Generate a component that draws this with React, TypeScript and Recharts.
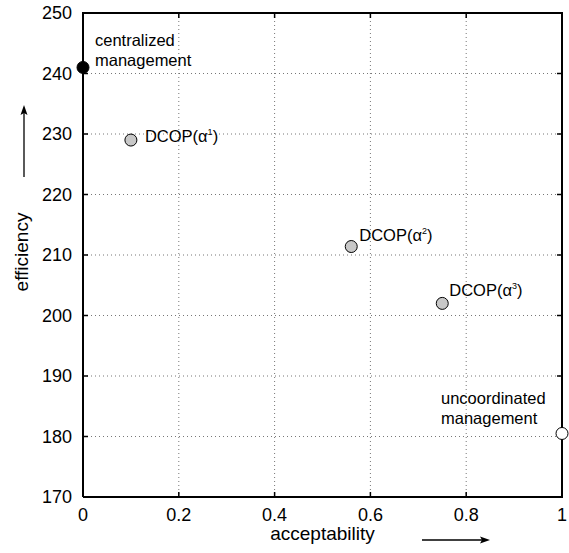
import React from 'react';
import { ScatterChart, Scatter, XAxis, YAxis, CartesianGrid } from 'recharts';

const FONT = '"Liberation Sans", Arial, Helvetica, sans-serif';

const xTicks = [0, 0.2, 0.4, 0.6, 0.8, 1];
const yTicks = [170, 180, 190, 200, 210, 220, 230, 240, 250];
const xDomain = [0, 1];
const yDomain = [170, 250];

const centralized = [{ acceptability: 0, efficiency: 241 }];
const dcop = [
  { acceptability: 0.1, efficiency: 229, alpha: '1' },
  { acceptability: 0.56, efficiency: 211.4, alpha: '2' },
  { acceptability: 0.75, efficiency: 202, alpha: '3' },
];
const uncoordinated = [{ acceptability: 1, efficiency: 180.5 }];

const centralizedLines = ['centralized', 'management'];
const uncoordinatedLines = ['uncoordinated', 'management'];

// layout
const W = 569;
const H = 553;
const MARGIN = { top: 13, right: 7, bottom: 0, left: 0 };
const Y_AXIS_W = 83;
const X_AXIS_H = 56;
const PL = MARGIN.left + Y_AXIS_W;
const PR = W - MARGIN.right;
const PT = MARGIN.top;
const PB = H - MARGIN.bottom - X_AXIS_H;

// label offsets relative to marker centre (layout only)
const dcopOffsets = [
  [14, 2],
  [8, -6],
  [7, -7],
];

const TS = 6;
const TM = 5;
const IN = 5;

const fmtX = (v: number) => (v === 0 || v === 1 ? String(v) : v.toFixed(1));

const CentralShape = (p: any) => (
  <g>
    <circle cx={p.cx} cy={p.cy} r={6} fill="#000" stroke="#000" strokeWidth={1} />
    {centralizedLines.map((t, i) => (
      <text key={i} x={p.cx + 12} y={p.cy - 21 + i * 20} fontSize={16.5} fontFamily={FONT} fill="#000">
        {t}
      </text>
    ))}
  </g>
);

const DcopShape = (p: any) => {
  const i = dcop.findIndex((d) => d.alpha === p.payload?.alpha);
  const off = dcopOffsets[i] || [8, -6];
  return (
    <g>
      <circle cx={p.cx} cy={p.cy} r={6} fill="#c8c8c8" stroke="#000" strokeWidth={1} />
      <text x={p.cx + off[0]} y={p.cy + off[1]} fontSize={16.5} fontFamily={FONT} fill="#000">
        DCOP(α
        <tspan dy={-7} fontSize={9}>
          {p.payload?.alpha}
        </tspan>
        <tspan dy={7}>)</tspan>
      </text>
    </g>
  );
};

const UncoordShape = (p: any) => (
  <g>
    {uncoordinatedLines.map((t, i) => (
      <text key={i} x={p.cx - 121} y={p.cy - 29 + i * 20} fontSize={16.5} fontFamily={FONT} fill="#000">
        {t}
      </text>
    ))}
  </g>
);

const XLabel = (props: any) => {
  const vb = props.viewBox;
  return (
    <text x={vb.x + vb.width / 2} y={vb.y + 43} textAnchor="middle" fontSize={19} fontFamily={FONT} fill="#000">
      acceptability
    </text>
  );
};

const YLabel = (props: any) => {
  const vb = props.viewBox;
  const cx = vb.x + 28;
  const cy = vb.y + vb.height / 2 - 3;
  return (
    <text x={cx} y={cy} textAnchor="middle" transform={`rotate(-90, ${cx}, ${cy})`} fontSize={19} fontFamily={FONT} fill="#000">
      efficiency
    </text>
  );
};

const BottomTick = (p: any) => (
  <text x={p.x} y={p.y} dy="0.71em" textAnchor="middle" fontSize={18} fontFamily={FONT} fill="#000">
    {fmtX(p.payload.value)}
  </text>
);

const LeftTick = (p: any) => (
  <text x={p.x} y={p.y} dy="0.355em" textAnchor="end" fontSize={18} fontFamily={FONT} fill="#000">
    {p.payload.value}
  </text>
);

const sx = (v: number) => PL + ((v - xDomain[0]) / (xDomain[1] - xDomain[0])) * (PR - PL);
const sy = (v: number) => PB - ((v - yDomain[0]) / (yDomain[1] - yDomain[0])) * (PB - PT);

const interiorX = xTicks.filter((v) => v > xDomain[0] && v < xDomain[1]);
const interiorY = yTicks.filter((v) => v > yDomain[0] && v < yDomain[1]);

const axisLine = { stroke: '#000', strokeWidth: 2 };

export default function App() {
  return (
    <div style={{ position: 'absolute', left: 0, top: 0, width: W, height: H, background: '#fff' }}>
      <ScatterChart width={W} height={H} margin={MARGIN}>
        <CartesianGrid stroke="#777" strokeDasharray="1 3" strokeWidth={1} fill="none" />
        <XAxis
          dataKey="acceptability"
          type="number"
          domain={xDomain}
          ticks={xTicks}
          height={X_AXIS_H}
          tick={<BottomTick />}
          tickSize={TS}
          tickMargin={TM}
          axisLine={axisLine}
          tickLine={false}
          label={<XLabel />}
        />
        <YAxis
          dataKey="efficiency"
          type="number"
          domain={yDomain}
          ticks={yTicks}
          width={Y_AXIS_W}
          tick={<LeftTick />}
          tickSize={TS}
          tickMargin={TM}
          axisLine={axisLine}
          tickLine={false}
          label={<YLabel />}
        />
        <Scatter data={dcop} shape={DcopShape} isAnimationActive={false} />
        <Scatter data={uncoordinated} shape={UncoordShape} isAnimationActive={false} />
        <Scatter data={centralized} shape={CentralShape} isAnimationActive={false} />
      </ScatterChart>
      <svg width={W} height={H} style={{ position: 'absolute', left: 0, top: 0, zIndex: 10, pointerEvents: 'none' }}>
        <rect x={PL - 1} y={PT - 1} width={PR - PL + 2} height={2} fill="#000" />
        <rect x={PR - 1} y={PT - 1} width={2} height={PB - PT + 2} fill="#000" />
        {interiorX.map((v) => (
          <g key={'x' + v}>
            <rect x={sx(v) - 0.75} y={PB - IN} width={1.5} height={IN} fill="#000" />
            <rect x={sx(v) - 0.75} y={PT} width={1.5} height={IN} fill="#000" />
          </g>
        ))}
        {interiorY.map((v) => (
          <g key={'y' + v}>
            <rect x={PL} y={sy(v) - 0.75} width={IN} height={1.5} fill="#000" />
            <rect x={PR - IN} y={sy(v) - 0.75} width={IN} height={1.5} fill="#000" />
          </g>
        ))}
        {uncoordinated.map((d, i) => (
          <circle key={i} cx={sx(d.acceptability)} cy={sy(d.efficiency)} r={6} fill="#fff" stroke="#000" strokeWidth={1} />
        ))}
        <line x1={24} y1={177} x2={24} y2={112} stroke="#000" strokeWidth={1.3} />
        <polygon points="24,105 20.5,115 24,113 27.5,115" fill="#000" />
        <line x1={422} y1={540} x2={483} y2={540} stroke="#000" strokeWidth={1.3} />
        <polygon points="490,540 480,536.5 482,540 480,543.5" fill="#000" />
      </svg>
    </div>
  );
}
